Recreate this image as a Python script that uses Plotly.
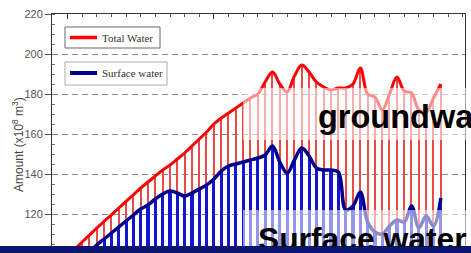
import plotly.graph_objects as go

years = list(range(1950, 2002))
total_water = [99, 102.5, 106, 109.5, 113, 116.3, 119.6, 123, 126.3, 129.6,
               133, 136, 139, 142, 144.5, 147.5, 150.5, 154, 157.5, 161,
               165, 168, 170.5, 173, 175.5, 178, 180, 186, 191, 185,
               181, 189, 194.5, 191, 186, 183.5, 182, 183, 183, 185,
               193, 180, 178.5, 172, 180, 188.5, 181.5, 180.5, 172, 171,
               178, 185]
surface_water = [92, 95, 98, 101, 104.5, 107.5, 110.5, 113.5, 116.5, 119.5,
                 122.5, 124.5, 127.5, 130, 131.5, 130.5, 129, 130.5, 132.5, 134.5,
                 137.5, 141.5, 144, 145, 146, 147, 148, 149.5, 154, 146,
                 140.5, 147, 153, 149, 143, 142, 142, 141, 122, 124,
                 131, 116, 111, 110, 114, 117, 116, 124, 113, 119,
                 114, 128]
y_ticks = [120, 140, 160, 180, 200, 220]
legend_labels = ["Total Water", "Surface water"]
overlay_texts = ["groundwater", "Surface water"]
y_title = "Amount (x10<sup>8</sup> m<sup>3</sup>)"

W, H = 471, 253
L, R, T, B = 52, 6, 14, 7
PW, PH = W - L - R, H - T - B


def px(x):
    return (x - L) / PW


def py(y):
    return (H - B - y) / PH


fig = go.Figure()
fig.add_trace(go.Bar(x=years, y=total_water, width=0.17,
                     marker=dict(color="#e84a4a", line=dict(width=0)),
                     showlegend=False))
fig.add_trace(go.Bar(x=years, y=surface_water, width=0.43,
                     marker=dict(color="#1414d2", line=dict(width=0)),
                     showlegend=False))
fig.add_trace(go.Scatter(x=years, y=total_water, mode="lines",
                         line=dict(color="#ff0000", width=3, shape="spline", smoothing=1.0),
                         showlegend=False))
fig.add_trace(go.Scatter(x=years, y=surface_water, mode="lines",
                         line=dict(color="#00008b", width=3.5, shape="spline", smoothing=1.0),
                         showlegend=False))

shapes = []
annotations = []
# legend boxes
shapes.append(dict(type="rect", xref="paper", yref="paper",
                   x0=px(65), x1=px(160), y0=py(48), y1=py(27),
                   line=dict(color="#666666", width=1), fillcolor="white", layer="above"))
shapes.append(dict(type="rect", xref="paper", yref="paper",
                   x0=px(65), x1=px(167), y0=py(85), y1=py(62),
                   line=dict(color="#aaaaaa", width=1), fillcolor="white", layer="above"))
shapes.append(dict(type="line", xref="paper", yref="paper",
                   x0=px(70), x1=px(97), y0=py(37.5), y1=py(37.5),
                   line=dict(color="#ff0000", width=3.5), layer="above"))
shapes.append(dict(type="line", xref="paper", yref="paper",
                   x0=px(70), x1=px(97), y0=py(73), y1=py(73),
                   line=dict(color="#00008b", width=4), layer="above"))
annotations.append(dict(text=legend_labels[0], xref="paper", yref="paper",
                        x=px(100), y=py(37.5), xanchor="left", yanchor="middle",
                        showarrow=False, font=dict(family="Liberation Serif", size=11, color="#333333")))
annotations.append(dict(text=legend_labels[1], xref="paper", yref="paper",
                        x=px(100), y=py(73), xanchor="left", yanchor="middle",
                        showarrow=False, font=dict(family="Liberation Serif", size=11, color="#333333")))
# semi-transparent white bands
shapes.append(dict(type="rect", xref="paper", yref="paper",
                   x0=px(243), x1=px(480), y0=py(140), y1=py(88),
                   line=dict(width=0), fillcolor="rgba(255,255,255,0.55)", layer="above"))
shapes.append(dict(type="rect", xref="paper", yref="paper",
                   x0=px(243), x1=px(480), y0=py(246), y1=py(210),
                   line=dict(width=0), fillcolor="rgba(255,255,255,0.55)", layer="above"))
# navy bottom bar (shape)
shapes.append(dict(type="rect", xref="paper", yref="paper",
                   x0=px(-5), x1=px(480), y0=py(260), y1=py(246),
                   line=dict(width=0), fillcolor="#0a1670", layer="above"))
# y-axis title
annotations.append(dict(text=y_title, xref="paper", yref="paper",
                        x=px(18), y=py(145), textangle=-90, showarrow=False,
                        xanchor="center", yanchor="middle",
                        font=dict(family="Liberation Sans", size=12, color="#444444")))
# overlay slide texts
annotations.append(dict(text="<b>" + overlay_texts[0] + "</b>", xref="paper", yref="paper",
                        x=px(316), y=py(116.5), xanchor="left", yanchor="middle", showarrow=False,
                        font=dict(family="Liberation Sans", size=32.5, color="#000000")))
annotations.append(dict(text="<b>" + overlay_texts[1] + "</b>", xref="paper", yref="paper",
                        x=px(256), y=py(238.5), xanchor="left", yanchor="middle", showarrow=False,
                        font=dict(family="Liberation Sans", size=31.8, color="#000000")))
# navy bottom bar drawn above the texts
annotations.append(dict(text="\u00a0", xref="paper", yref="paper",
                        x=px(-5), y=py(246), xanchor="left", yanchor="top", showarrow=False,
                        width=490, height=10, bgcolor="#0a1670", borderpad=0,
                        font=dict(size=6, color="#0a1670")))

fig.update_layout(
    width=W, height=H,
    margin=dict(l=L, r=R, t=T, b=B),
    paper_bgcolor="white", plot_bgcolor="white",
    barmode="overlay", bargap=0,
    shapes=shapes, annotations=annotations,
    showlegend=False,
)
fig.update_xaxes(range=[1947.88, 2004.3], side="top", showticklabels=False,
                 ticks="inside", tick0=1950, dtick=20, ticklen=5, tickcolor="#333",
                 minor=dict(ticks="inside", dtick=2, ticklen=3, tickcolor="#555"),
                 showline=True, linecolor="#333333", linewidth=1, mirror=True,
                 showgrid=False, zeroline=False)
fig.update_yaxes(range=[104, 220], tickvals=y_ticks, ticks="outside", ticklen=6,
                 tickcolor="#555", showline=True, linecolor="#333333", linewidth=1, mirror=True,
                 minor=dict(ticks="inside", dtick=5, ticklen=3, tickcolor="#777", showgrid=False),
                 showgrid=True, gridcolor="#8a8a8a", gridwidth=1.2, griddash="6px,4px",
                 zeroline=False,
                 tickfont=dict(family="Liberation Sans", size=11, color="#555555"))

fig.write_html("out.html", config={"displayModeBar": False},
               post_script="document.body.style.margin='0';document.body.style.overflow='hidden';")
